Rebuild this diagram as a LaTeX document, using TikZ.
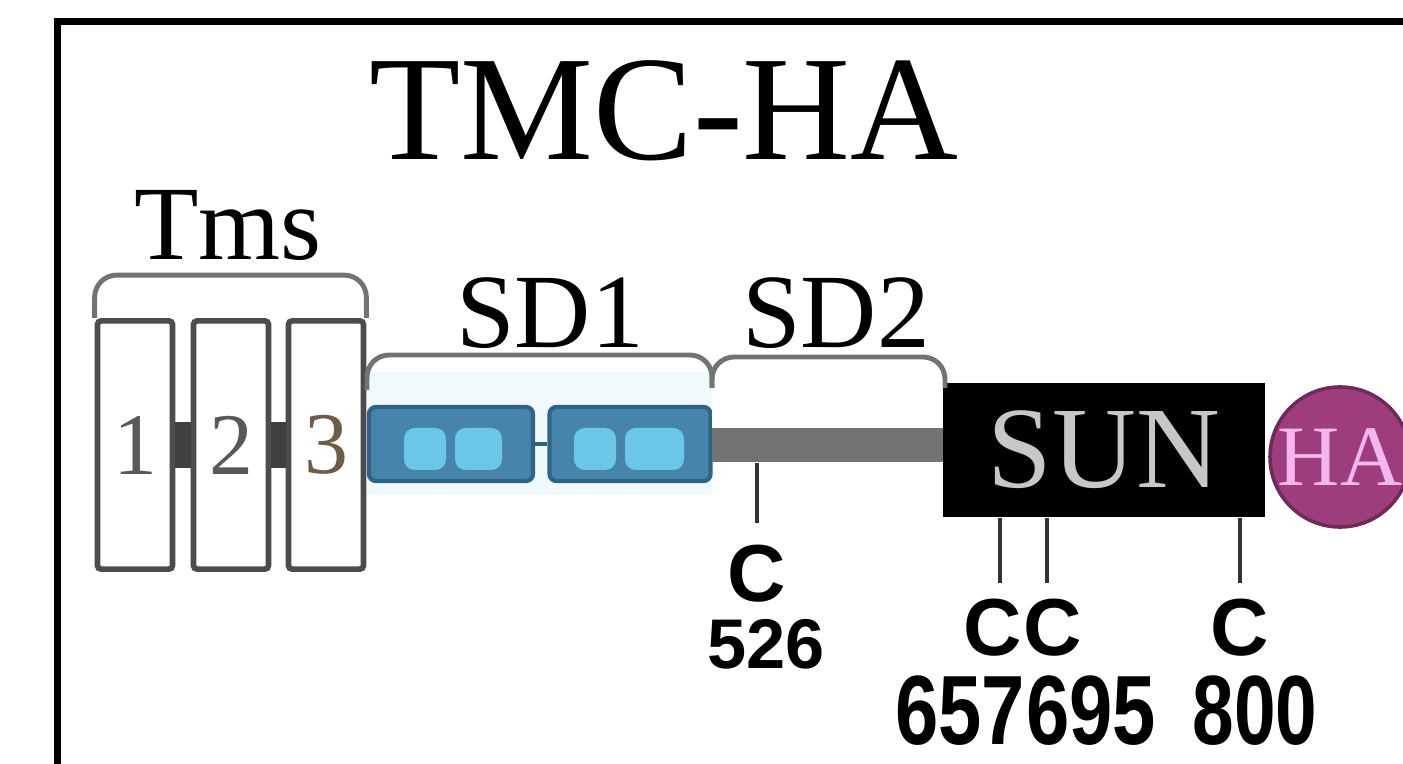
\documentclass[tikz,border=0pt]{standalone}
\usepackage{fontspec}
\setmainfont{Liberation Serif}
\newfontfamily\labelsans{Liberation Sans}
\usetikzlibrary{calc}

\definecolor{ccdark}{HTML}{2E6485}
\definecolor{ccfill}{HTML}{4684AA}
\definecolor{cclight}{HTML}{6CC6E8}
\definecolor{cchalo}{HTML}{F0F9FC}
\definecolor{haplum}{HTML}{9E3D7C}
\definecolor{hatext}{HTML}{F3B6EE}
\definecolor{tmthree}{HTML}{6E5C48}

\tikzset{
  tmbox/.style={draw=black!70,line width=1.6pt,fill=white,rounded corners=1pt,
    minimum width=0.75cm,minimum height=2.48cm,inner sep=0pt,
    font=\fontsize{25}{28}\selectfont,text=black!65},
  capline/.style={draw=black!55,line width=1.4pt,rounded corners=0.22cm},
  ccblock/.style={draw=ccdark,line width=1.2pt,fill=ccfill,rounded corners=2pt,
    minimum height=0.74cm,inner sep=0pt},
  tick/.style={draw=black!80,line width=1.1pt},
  domlabel/.style={anchor=base,inner sep=0pt,font=\fontsize{30}{33}\selectfont},
  resname/.style={anchor=base,inner sep=0pt,font=\labelsans\bfseries\fontsize{23}{25}\selectfont},
  resnum/.style={anchor=base,inner sep=0pt,font=\labelsans\bfseries\fontsize{28}{30}\selectfont},
}

\begin{document}
\begin{tikzpicture}[x=0.01cm,y=-0.01cm]
  \useasboundingbox (0,0) rectangle (1403,764);
  \clip (0,0) rectangle (1403,764);
  % frame
  \draw[line width=2pt] (57.5,800) -- (57.5,21.5) -- (1450,21.5);
  \node[anchor=base,inner sep=0pt,font=\fontsize{42.5}{46}\selectfont] (title) at (664,160) {TMC-HA};

  % transmembrane segments
  \node[tmbox] (tm1) at (135,445) {1};
  \node[tmbox] (tm2) at (231,445) {2};
  \node[tmbox,text=tmthree] (tm3) at (326,445) {3};
  \fill[black!75] ($(tm1.east)+(0,-23)$) rectangle ($(tm2.west)+(0,23)$);
  \fill[black!75] ($(tm2.east)+(0,-23)$) rectangle ($(tm3.west)+(0,23)$);
  \draw[capline] (tm1.north west) -- ++(0,-43) -| (tm3.north east);
  \node[domlabel] (tms) at (228,260) {Tms};

  % coiled coils
  \fill[cchalo] (367,372) rectangle (712,495);
  \node[ccblock,minimum width=1.64cm] (cc1) at (451,444) {};
  \node[ccblock,minimum width=1.61cm] (cc2) at (630,444) {};
  \foreach \a/\b in {404/446,455/502,574/616,625/684}
    \fill[cclight,rounded corners=3pt] (\a,428) rectangle (\b,470);
  \draw[ccdark,line width=1.2pt] (cc1) -- (cc2);

  % linker and SUN
  \fill[white] (712,378) rectangle (945,428);
  \node[fill=black!55,minimum width=2.32cm,minimum height=0.34cm,inner sep=0pt] (linker) at (828,445) {};
  \node[fill=black,minimum width=3.22cm,minimum height=1.34cm,inner sep=0pt,
    text=black!22,font=\fontsize{33}{36}\selectfont] (sun) at (1104,450) {SUN};
  \node[circle,fill=haplum,draw=haplum!70!black,line width=1pt,minimum size=1.4cm,inner sep=0pt,
    text=hatext,font=\fontsize{24.5}{27}\selectfont] (ha) at (1340,457) {HA};

  % SD brackets
  \draw[capline] (367,390) -- (367,355) -- (712,355) -- (712,388);
  \draw[capline] (712,388) -- (712,357) -- (945,357) -- (945,388);
  \node[domlabel] (sdone) at (550,348) {SD1};
  \node[domlabel] (sdtwo) at (836,348) {SD2};

  % cysteines
  \node[resname] (c526) at (757,601) {C};
  \node[resnum,font=\labelsans\bfseries\fontsize{20}{22}\selectfont] (n526) at (766,668) {526};
  \coordinate (t526) at (757,523);
  \draw[tick] (linker.south -| t526) -- (t526);

  \node[resname] (c657) at (993,655) {C};
  \node[resname] (c695) at (1053,655) {C};
  \node[resname] (c800) at (1240,655) {C};
  \node[resnum] (n657) at (960,744) {\scalebox{0.79}[1]{657}};
  \node[resnum] (n695) at (1091,744) {\scalebox{0.79}[1]{695}};
  \node[resnum] (n800) at (1255,744) {\scalebox{0.76}[1]{800}};
  \coordinate (t657) at (1000,583);
  \coordinate (t695) at (1047,583);
  \coordinate (t800) at (1240,583);
  \foreach \t in {t657,t695,t800}
    \draw[tick] (sun.south -| \t) -- (\t);
\end{tikzpicture}
\end{document}
